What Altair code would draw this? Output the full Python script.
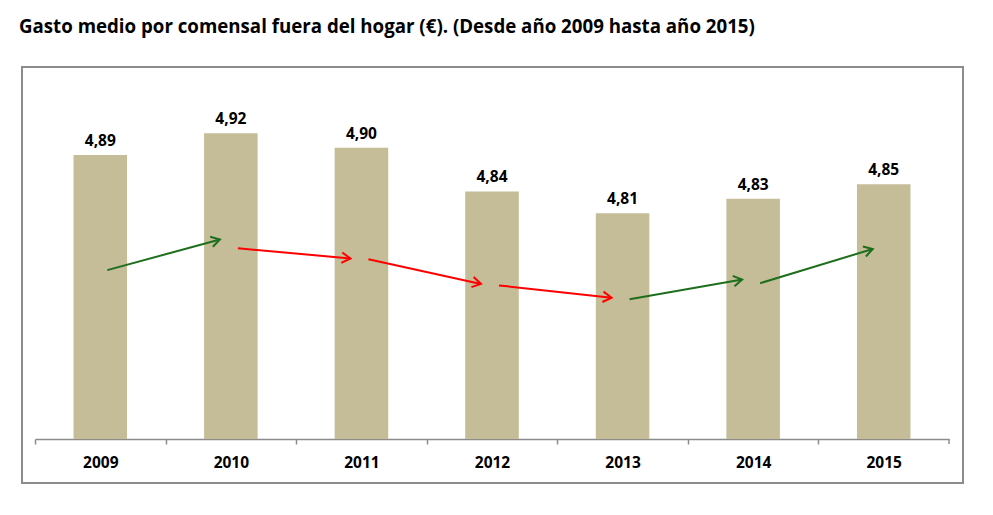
import math
import altair as alt
import pandas as pd

# ---- data ----
years = ["2009", "2010", "2011", "2012", "2013", "2014", "2015"]
values = [4.89, 4.92, 4.90, 4.84, 4.81, 4.83, 4.85]

# trend arrows between consecutive years (hand-placed in the original)
arrow_y_start = [4.732, 4.762, 4.747, 4.711, 4.692, 4.714]
arrow_y_end = [4.774, 4.748, 4.713, 4.694, 4.719, 4.761]

TITLE = "Gasto medio por comensal fuera del hogar (€). (Desde año 2009 hasta año 2015)"
FONT = "Open Sans"
BAR_COLOR = "#C4BD97"
UP_COLOR = "#1E6E1E"
DOWN_COLOR = "#FF0000"
AXIS_GREY = "#8C8C8C"

W, H = 914, 364
Y_DOMAIN = [4.5, 5.0]
n = len(years)
START_OFF, END_OFF = 7, -11  # px offsets of arrow ends from bar centres

bars_df = pd.DataFrame({
    "year": years,
    "value": values,
    "label": [f"{v:.2f}".replace(".", ",") for v in values],
})

# arrow geometry
step = W / n
px_y = H / (Y_DOMAIN[1] - Y_DOMAIN[0])
rows = []
for i in range(n - 1):
    y1, y2 = arrow_y_start[i], arrow_y_end[i]
    up = values[i + 1] > values[i]
    dx = step + END_OFF - START_OFF
    ang = math.degrees(math.atan2(-(y2 - y1) * px_y, dx)) % 360
    rows.append({"from": years[i], "to": years[i + 1], "y1": y1, "y2": y2,
                 "color": UP_COLOR if up else DOWN_COLOR, "angle": ang})
arrows_df = pd.DataFrame(rows)

x_scale = alt.Scale(domain=years, paddingInner=0.59, paddingOuter=0.295)
x_axis = alt.Axis(labelAngle=0, labelFont=FONT, labelFontSize=15.5,
                  labelFontWeight="bold", labelColor="#000000",
                  domainColor=AXIS_GREY, domainWidth=1.5,
                  tickColor=AXIS_GREY, tickWidth=1.5, tickSize=5,
                  tickOffset=-step / 2, labelOffset=step / 2, labelPadding=11)
y_scale = alt.Scale(domain=Y_DOMAIN, zero=False, nice=False)

x_ord = alt.X("year:N", sort=years, title=None, scale=x_scale, axis=x_axis)
y_q = alt.Y("value:Q", title=None, axis=None, scale=y_scale)

bars = alt.Chart(bars_df).mark_bar(color=BAR_COLOR, clip=True).encode(x=x_ord, y=y_q)
labels = alt.Chart(bars_df).mark_text(
    font=FONT, fontSize=15.5, fontWeight="bold", color="#000000",
    baseline="alphabetic", dy=-9
).encode(x=x_ord, y=y_q, text="label:N")

shafts = alt.Chart(arrows_df).mark_rule(
    strokeWidth=2, xOffset=START_OFF, x2Offset=END_OFF
).encode(
    x=alt.X("from:N", scale=x_scale, title=None),
    x2="to:N",
    y=alt.Y("y1:Q", scale=y_scale, axis=None),
    y2="y2:Q",
    color=alt.Color("color:N", scale=None),
)
heads = alt.Chart(arrows_df).mark_point(
    shape="M-1,-0.6L0,0L-1,0.6", filled=False, strokeWidth=2, size=300,
    opacity=1, xOffset=END_OFF
).encode(
    x=alt.X("to:N", scale=x_scale, title=None),
    y=alt.Y("y2:Q", scale=y_scale, axis=None),
    angle=alt.Angle("angle:Q", scale=None),
    color=alt.Color("color:N", scale=None),
)

# closing tick at the right end of the category axis
end_tick = alt.Chart(alt.Data(values=[{}])).mark_rule(
    color=AXIS_GREY, strokeWidth=1.5
).encode(x=alt.value(W), y=alt.value(H), y2=alt.value(H + 5))

frame = alt.Chart(alt.Data(values=[{}])).mark_rect(
    fill=None, stroke=AXIS_GREY, strokeWidth=2
).encode(x=alt.value(-13), x2=alt.value(928), y=alt.value(-8), y2=alt.value(408))

chart = alt.layer(frame, bars, labels, shafts, heads, end_tick).properties(
    width=W, height=H,
    background="white",
    autosize=alt.AutoSizeParams(type="none"),
    padding={"left": 35, "top": 75, "right": 44, "bottom": 76},
    title=alt.TitleParams(TITLE, anchor="start", font=FONT, fontSize=18.7,
                          fontWeight="bold", color="#000000", dx=-2, offset=29),
).configure_view(stroke=None)

chart.save("out.html", embed_options={"renderer": "svg", "actions": False})
